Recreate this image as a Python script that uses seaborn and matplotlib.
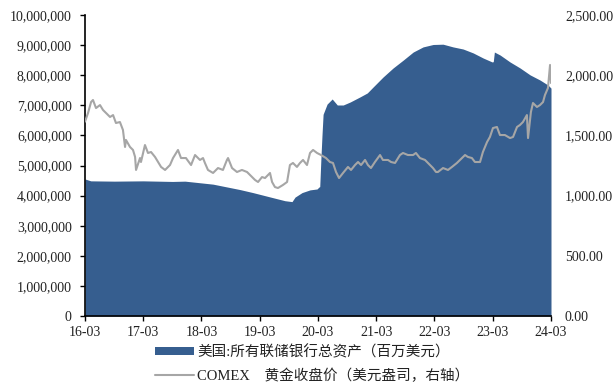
import matplotlib.pyplot as plt
import matplotlib.dates as mdates
import matplotlib.ticker as ticker
from matplotlib.patches import Patch
from matplotlib.lines import Line2D
import pandas as pd
import seaborn as sns

sns.set_theme(style="ticks")
plt.rcParams["font.family"] = ["Liberation Serif", "Noto Sans CJK SC"]

# Fed total assets (million USD)
fed_dates = [
    "2016-03-01", "2016-03-02", "2016-04-06", "2016-09-01", "2017-03-01", "2017-09-01",
    "2017-11-18", "2018-05-13", "2018-10-29", "2019-01-18", "2019-05-24", "2019-08-07",
    "2019-09-20", "2019-10-09", "2019-11-22", "2020-01-11", "2020-02-24", "2020-03-06",
    "2020-03-12", "2020-03-19", "2020-03-26", "2020-04-02", "2020-04-27", "2020-05-29",
    "2020-06-30", "2020-08-06", "2020-09-19", "2020-11-20", "2021-01-04", "2021-02-10",
    "2021-04-13", "2021-06-15", "2021-08-17", "2021-10-19", "2021-12-20", "2022-02-21",
    "2022-04-24", "2022-06-26", "2022-08-28", "2022-10-30", "2023-01-01", "2023-02-26",
    "2023-03-05", "2023-03-12", "2023-04-17", "2023-06-18", "2023-08-20", "2023-10-22",
    "2023-12-23", "2024-02-12", "2024-03-01",
]
fed_assets = [
    4.50, 4.55, 4.49, 4.48, 4.49, 4.47,
    4.48, 4.38, 4.20, 4.10, 3.93, 3.83,
    3.80, 3.95, 4.10, 4.19, 4.22, 4.28,
    4.30, 5.20, 6.00, 6.70, 7.04, 7.21,
    7.01, 7.01, 7.11, 7.28, 7.41, 7.61,
    7.94, 8.24, 8.50, 8.77, 8.94, 9.02,
    9.03, 8.94, 8.87, 8.74, 8.57, 8.44,
    8.45, 8.77, 8.67, 8.44, 8.24, 8.01,
    7.84, 7.67, 7.57,
]
fed_assets = [v * 1_000_000 for v in fed_assets]

# COMEX gold close (right axis)
gold_dates = [
    "2016-03-01", "2016-03-20", "2016-04-08", "2016-04-20", "2016-05-09", "2016-06-03",
    "2016-06-22", "2016-07-11", "2016-08-05", "2016-08-24", "2016-09-11", "2016-10-06",
    "2016-10-25", "2016-11-07", "2016-11-13", "2016-12-08", "2016-12-27", "2017-01-09",
    "2017-01-15", "2017-02-09", "2017-02-15", "2017-03-12", "2017-03-31", "2017-04-19",
    "2017-05-14", "2017-06-02", "2017-06-21", "2017-07-16", "2017-08-16", "2017-09-04",
    "2017-10-05", "2017-10-24", "2017-11-24", "2017-12-26", "2018-01-20", "2018-02-20",
    "2018-03-11", "2018-03-23", "2018-04-11", "2018-05-13", "2018-06-13", "2018-07-14",
    "2018-08-08", "2018-08-15", "2018-09-09", "2018-10-10", "2018-11-10", "2018-12-12",
    "2018-12-31", "2019-01-31", "2019-02-19", "2019-03-16", "2019-04-04", "2019-05-05",
    "2019-05-18", "2019-06-05", "2019-06-24", "2019-07-25", "2019-08-20", "2019-09-07",
    "2019-09-26", "2019-10-21", "2019-11-09", "2019-11-28", "2019-12-23", "2020-01-11",
    "2020-01-30", "2020-02-24", "2020-03-20", "2020-04-20", "2020-05-15", "2020-06-03",
    "2020-06-22", "2020-07-11", "2020-08-05", "2020-09-05", "2020-09-24", "2020-10-19",
    "2020-11-07", "2020-11-26", "2020-12-21", "2021-01-08", "2021-01-27", "2021-02-21",
    "2021-03-25", "2021-04-12", "2021-05-14", "2021-06-02", "2021-06-27", "2021-07-28",
    "2021-08-16", "2021-09-16", "2021-10-18", "2021-11-05", "2021-11-30", "2022-01-01",
    "2022-02-01", "2022-02-20", "2022-03-11", "2022-03-23", "2022-04-24", "2022-05-25",
    "2022-06-19", "2022-07-20", "2022-08-08", "2022-09-09", "2022-09-27", "2022-10-22",
    "2022-11-10", "2022-12-12", "2022-12-30", "2023-01-25", "2023-02-12", "2023-03-03",
    "2023-03-28", "2023-04-16", "2023-05-17", "2023-06-18", "2023-07-07", "2023-08-01",
    "2023-08-19", "2023-09-07", "2023-10-02", "2023-10-09", "2023-10-27", "2023-11-09",
    "2023-12-04", "2023-12-23", "2024-01-11", "2024-01-23", "2024-02-11", "2024-02-24",
    "2024-03-01",
]
gold_price = [
    1614, 1686, 1777, 1794, 1727, 1752,
    1711, 1686, 1653, 1669, 1603, 1611,
    1545, 1404, 1462, 1404, 1379, 1321,
    1213, 1312, 1279, 1420, 1354, 1362,
    1321, 1279, 1238, 1213, 1254, 1312,
    1379, 1312, 1312, 1254, 1337, 1296,
    1312, 1271, 1213, 1188, 1229, 1213,
    1296, 1312, 1229, 1196, 1213, 1196,
    1171, 1130, 1113, 1154, 1146, 1188,
    1113, 1071, 1063, 1088, 1113, 1254,
    1271, 1238, 1271, 1296, 1254, 1354,
    1379, 1354, 1337, 1312, 1279, 1271,
    1196, 1146, 1188, 1238, 1213, 1254,
    1279, 1254, 1296, 1254, 1229, 1279,
    1337, 1296, 1296, 1279, 1271, 1337,
    1354, 1337, 1337, 1354, 1312, 1296,
    1254, 1229, 1196, 1196, 1229, 1213,
    1238, 1271, 1296, 1337, 1321, 1312,
    1279, 1279, 1362, 1445, 1487, 1561,
    1570, 1503, 1503, 1478, 1487, 1570,
    1586, 1611, 1669, 1478, 1694, 1769,
    1736, 1752, 1777, 1835, 1894, 2085,
    1935,
]

fed = pd.DataFrame({"date": pd.to_datetime(fed_dates), "assets": fed_assets})
gold = pd.DataFrame({"date": pd.to_datetime(gold_dates), "price": gold_price})

BLUE = "#365E8F"
GREY = "#A6A6A6"

fig = plt.figure(figsize=(6.15, 3.92), dpi=100)
ax = fig.add_axes([85 / 615, 1 - 316 / 392, 466 / 615, 301 / 392])
ax2 = ax.twinx()

ax.fill_between(fed["date"], 0, fed["assets"], color=BLUE, lw=0)
sns.lineplot(data=gold, x="date", y="price", ax=ax2, color=GREY, lw=1.5)

ax.set_xlim(pd.Timestamp("2016-03-01"), pd.Timestamp("2024-03-01"))
ax.set_ylim(0, 10_000_000)
ax2.set_ylim(0, 2500)

ax.xaxis.set_major_locator(mdates.MonthLocator(bymonth=3, bymonthday=1))
ax.xaxis.set_major_formatter(mdates.DateFormatter("%y-%m"))
ax.yaxis.set_major_locator(ticker.MultipleLocator(1_000_000))
ax.yaxis.set_major_formatter(ticker.StrMethodFormatter("{x:,.0f}"))
ax2.yaxis.set_major_locator(ticker.MultipleLocator(500))
ax2.yaxis.set_major_formatter(ticker.StrMethodFormatter("{x:,.2f}"))

ax.tick_params(axis="both", direction="out", length=3.5, width=1, color="black",
               labelsize=10, labelcolor="#222222")
ax.tick_params(axis="y", pad=6)
ax.tick_params(axis="x", pad=4)
ax2.tick_params(axis="y", length=0, pad=10, labelsize=10, labelcolor="#222222")

for side in ["top", "right"]:
    ax.spines[side].set_visible(False)
for side in ["left", "bottom"]:
    ax.spines[side].set_color("black")
    ax.spines[side].set_linewidth(1.2)
for sp in ax2.spines.values():
    sp.set_visible(False)

ax.set_xlabel("")
ax.set_ylabel("")
ax2.set_xlabel("")
ax2.set_ylabel("")
ax.grid(False)
ax2.grid(False)

handles = [
    Patch(facecolor=BLUE, edgecolor="none", label="美国:所有联储银行总资产（百万美元）"),
    Line2D([0], [0], color=GREY, lw=1.5, label="COMEX\u3000黄金收盘价（美元盎司，右轴）"),
]
fig.legend(handles=handles, loc="upper left", bbox_to_anchor=(155 / 615, 1 - 345 / 392),
           frameon=False, borderpad=0, borderaxespad=0, handlelength=2.7,
           handleheight=0.5, handletextpad=0.2, labelspacing=0.6,
           prop={"size": 10.5}, labelcolor="#222222")

fig.savefig("out.png", dpi=100)
